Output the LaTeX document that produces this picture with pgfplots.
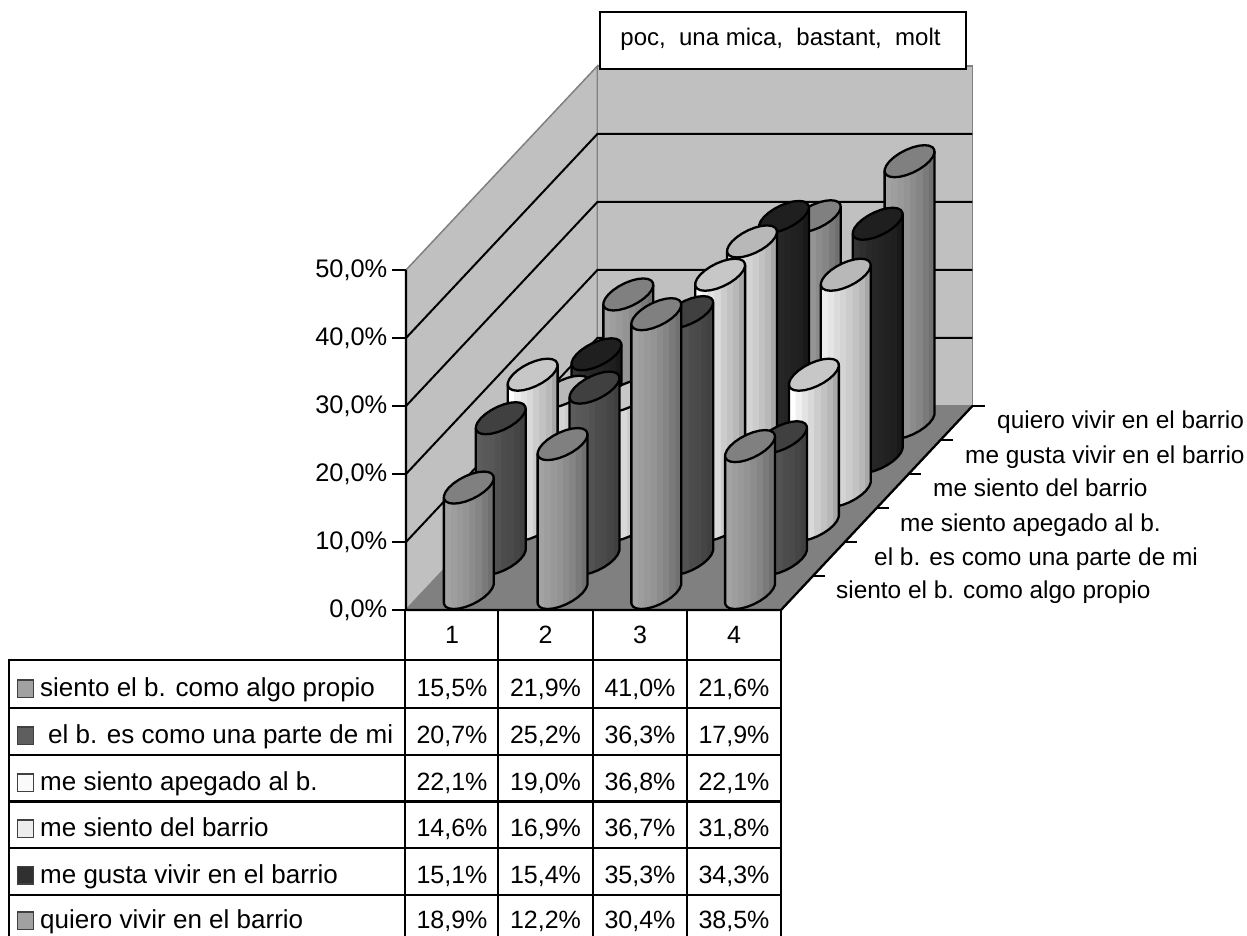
\documentclass[border=0pt]{standalone}
\usepackage{fontspec}
\setmainfont{Liberation Sans}
\usepackage{pgfplots}
\usepackage{pgfplotstable}
\pgfplotsset{compat=1.18}

% cylinder outline on the unit circle: side with front arc, and top ellipse
\pgfplotstableread{
c s z
-0.8 -0.6 0
-0.707 -0.707 0
-0.5 -0.866 0
-0.259 -0.966 0
0 -1 0
0.259 -0.966 0
0.5 -0.866 0
0.707 -0.707 0
0.866 -0.5 0
0.966 -0.259 0
1 0 0
0.966 0.259 0
0.866 0.5 0
0.8 0.6 0
0.8 0.6 1
-0.8 -0.6 1
-0.8 -0.6 0
}\sidetable
\pgfplotstableread{
c s z
1 0 1
0.966 0.259 1
0.866 0.5 1
0.707 0.707 1
0.5 0.866 1
0.259 0.966 1
0 1 1
-0.259 0.966 1
-0.5 0.866 1
-0.707 0.707 1
-0.866 0.5 1
-0.966 0.259 1
-1 0 1
-0.966 -0.259 1
-0.866 -0.5 1
-0.707 -0.707 1
-0.5 -0.866 1
-0.259 -0.966 1
0 -1 1
0.259 -0.966 1
0.5 -0.866 1
0.707 -0.707 1
0.866 -0.5 1
0.966 -0.259 1
1 0 1
}\toptable

% eight vertical strips, visible between 25bp and 75bp
\newcommand{\cylshade}[9]{\pgfdeclarehorizontalshading{#1}{100bp}{%
  rgb(0bp)=(#2,#2,#2); rgb(31.24bp)=(#2,#2,#2);
  rgb(31.25bp)=(#3,#3,#3); rgb(37.49bp)=(#3,#3,#3);
  rgb(37.5bp)=(#4,#4,#4); rgb(43.74bp)=(#4,#4,#4);
  rgb(43.75bp)=(#5,#5,#5); rgb(49.99bp)=(#5,#5,#5);
  rgb(50bp)=(#6,#6,#6); rgb(56.24bp)=(#6,#6,#6);
  rgb(56.25bp)=(#7,#7,#7); rgb(62.49bp)=(#7,#7,#7);
  rgb(62.5bp)=(#8,#8,#8); rgb(68.74bp)=(#8,#8,#8);
  rgb(68.75bp)=(#9,#9,#9); rgb(100bp)=(#9,#9,#9)}}
\cylshade{shA}{.64}{.62}{.60}{.58}{.55}{.52}{.48}{.44}
\cylshade{shB}{.36}{.35}{.34}{.32}{.30}{.29}{.27}{.25}
\cylshade{shC}{1}{.94}{.89}{.85}{.80}{.76}{.72}{.66}
\cylshade{shD}{.93}{.90}{.86}{.83}{.80}{.76}{.72}{.66}
\cylshade{shE}{.20}{.18}{.16}{.15}{.14}{.13}{.12}{.10}
\definecolor{topA}{gray}{.50}
\definecolor{topB}{gray}{.25}
\definecolor{topC}{gray}{.78}
\definecolor{topD}{gray}{.72}
\definecolor{topE}{gray}{.12}
\definecolor{wall}{gray}{.753}
\definecolor{floorc}{gray}{.50}
\definecolor{keyA}{gray}{.63}
\definecolor{keyB}{gray}{.37}
\definecolor{keyC}{gray}{.98}
\definecolor{keyD}{gray}{.93}
\definecolor{keyE}{gray}{.19}

% #1 category, #2 series, #3 value, #4 shading, #5 top colour
\newcommand{\cyl}[5]{
  \addplot3[draw=black, line width=2.3pt, line join=round, shading=#4]
    table[x expr={#1-0.5+0.2128*\thisrow{c}}, y expr={#2-0.5+0.4712*\thisrow{s}}, z expr={#3*\thisrow{z}}] {\sidetable};
  \addplot3[draw=black, line width=2.3pt, line join=round, fill=#5]
    table[x expr={#1-0.5+0.2128*\thisrow{c}}, y expr={#2-0.5+0.4712*\thisrow{s}}, z expr={#3*\thisrow{z}}] {\toptable};
}
\newcommand{\gridl}[1]{
  \addplot3[black, line width=2pt] coordinates {(0,0,#1) (0,6,#1) (4,6,#1)};
}
\newcommand{\vals}[5]{
  \node[anchor=base] at (452,#1) {#2\%};
  \node[anchor=base] at (545.5,#1) {#3\%};
  \node[anchor=base] at (640,#1) {#4\%};
  \node[anchor=base] at (734,#1) {#5\%};
}
\newcommand{\rowname}[5]{
  \draw[draw=black!75, line width=1.8pt, fill=#4] (17.5,#1-17) rectangle (33.5,#1+0.5);
  \node[anchor=base west] at (#2,#1) {\fontsize{26}{28}\selectfont #3};
  #5
}
\newcommand{\sidelabel}[3]{
  \node[anchor=base west] at (#1,#2) {\fontsize{24.4}{28}\selectfont #3};
}
\newcommand{\zlabel}[2]{
  \node[anchor=base east] at (387.5,#1) {\fontsize{25.4}{28}\selectfont #2};
}

\begin{document}
\begin{tikzpicture}
\path[use as bounding box] (0,0) rectangle (1247pt,936pt);
\begin{axis}[
    at={(406pt,326pt)}, anchor=origin,
    x={(93.75pt,0pt)}, y={(31.9pt,34pt)}, z={(0pt,6.8pt)},
    xmin=0, xmax=4, ymin=0, ymax=6, zmin=0, zmax=50,
    hide axis, clip=false,
]
% walls and floor
\addplot3[draw=black!50, line width=1.5pt, fill=wall] coordinates {(0,0,0) (0,0,50) (0,6,50) (0,6,0) (0,0,0)};
\addplot3[draw=black!50, line width=1.5pt, fill=wall] coordinates {(0,6,0) (0,6,50) (4,6,50) (4,6,0) (0,6,0)};
\addplot3[draw=black!50, line width=1.5pt, fill=floorc] coordinates {(0,0,0) (4,0,0) (4,6,0) (0,6,0) (0,0,0)};
\gridl{10}
\gridl{20}
\gridl{30}
\gridl{40}
\addplot3[black, line width=2.3pt] coordinates {(0,0,50) (0,0,0) (4,0,0) (4,6,0)};
% left ticks
\addplot3[black, line width=2pt] coordinates {(0,0,0) (-0.15,0,0)};
\addplot3[black, line width=2pt] coordinates {(0,0,10) (-0.15,0,10)};
\addplot3[black, line width=2pt] coordinates {(0,0,20) (-0.15,0,20)};
\addplot3[black, line width=2pt] coordinates {(0,0,30) (-0.15,0,30)};
\addplot3[black, line width=2pt] coordinates {(0,0,40) (-0.15,0,40)};
\addplot3[black, line width=2pt] coordinates {(0,0,50) (-0.15,0,50)};
% depth ticks
\addplot3[black, line width=2pt] coordinates {(4,1,0) (4.13,1,0)};
\addplot3[black, line width=2pt] coordinates {(4,2,0) (4.13,2,0)};
\addplot3[black, line width=2pt] coordinates {(4,3,0) (4.13,3,0)};
\addplot3[black, line width=2pt] coordinates {(4,4,0) (4.13,4,0)};
\addplot3[black, line width=2pt] coordinates {(4,5,0) (4.13,5,0)};
\addplot3[black, line width=2pt] coordinates {(4,6,0) (4.13,6,0)};
% quiero vivir en el barrio
\cyl{1}{6}{18.9}{shA}{topA}
\cyl{2}{6}{12.2}{shA}{topA}
\cyl{3}{6}{30.4}{shA}{topA}
\cyl{4}{6}{38.5}{shA}{topA}
% me gusta vivir en el barrio
\cyl{1}{5}{15.1}{shE}{topE}
\cyl{2}{5}{15.4}{shE}{topE}
\cyl{3}{5}{35.3}{shE}{topE}
\cyl{4}{5}{34.3}{shE}{topE}
% me siento del barrio
\cyl{1}{4}{14.6}{shD}{topD}
\cyl{2}{4}{16.9}{shD}{topD}
\cyl{3}{4}{36.7}{shD}{topD}
\cyl{4}{4}{31.8}{shD}{topD}
% me siento apegado al b.
\cyl{1}{3}{22.1}{shC}{topC}
\cyl{2}{3}{19.0}{shC}{topC}
\cyl{3}{3}{36.8}{shC}{topC}
\cyl{4}{3}{22.1}{shC}{topC}
% el b. es como una parte de mi
\cyl{1}{2}{20.7}{shB}{topB}
\cyl{2}{2}{25.2}{shB}{topB}
\cyl{3}{2}{36.3}{shB}{topB}
\cyl{4}{2}{17.9}{shB}{topB}
% siento el b. como algo propio
\cyl{1}{1}{15.5}{shA}{topA}
\cyl{2}{1}{21.9}{shA}{topA}
\cyl{3}{1}{41.0}{shA}{topA}
\cyl{4}{1}{21.6}{shA}{topA}
\end{axis}

% texts and table, in picture pixels measured from the top left
\begin{scope}[x=1pt, y=-1pt, shift={(0pt,936pt)}, every node/.style={inner sep=0pt, font=\fontsize{25}{28}\selectfont}]
\draw[fill=white, line width=2pt] (600,12) rectangle (965.5,69.5);
\node[anchor=base] at (780.5,46) {\fontsize{24}{28}\selectfont poc,~~una mica,~~bastant,~~molt};

\zlabel{278}{50,0\%}
\zlabel{346}{40,0\%}
\zlabel{414}{30,0\%}
\zlabel{482}{20,0\%}
\zlabel{550}{10,0\%}
\zlabel{618}{0,0\%}

\sidelabel{997}{429}{quiero vivir en el barrio}
\sidelabel{965}{464}{me gusta vivir en el barrio}
\sidelabel{933}{497}{me siento del barrio}
\sidelabel{900}{532}{me siento apegado al b.}
\sidelabel{874}{566}{el b. es como una parte de mi}
\sidelabel{836}{599}{siento el b. como algo propio}

\draw[line width=2.2pt] (9,660) -- (781,660);
\draw[line width=2.2pt] (9,708) -- (781,708);
\draw[line width=2.2pt] (9,755) -- (781,755);
\draw[line width=2.2pt] (9,801.5) -- (781,801.5);
\draw[line width=2.2pt] (9,848) -- (781,848);
\draw[line width=2.2pt] (9,895) -- (781,895);
\draw[line width=2.2pt] (9,659) -- (9,936);
\draw[line width=2.2pt] (405,610) -- (405,936);
\draw[line width=2.2pt] (498,610) -- (498,936);
\draw[line width=2.2pt] (593,610) -- (593,936);
\draw[line width=2.2pt] (687,610) -- (687,936);
\draw[line width=2.2pt] (781,610) -- (781,936);

\node[anchor=base] at (452,644) {1};
\node[anchor=base] at (545.5,644) {2};
\node[anchor=base] at (640,644) {3};
\node[anchor=base] at (734,644) {4};

\rowname{697}{40}{siento el b. como algo propio}{keyA}{\vals{697}{15,5}{21,9}{41,0}{21,6}}
\rowname{744}{48}{el b. es como una parte de mi}{keyB}{\vals{744}{20,7}{25,2}{36,3}{17,9}}
\rowname{791}{40}{me siento apegado al b.}{keyC}{\vals{791}{22,1}{19,0}{36,8}{22,1}}
\rowname{837}{40}{me siento del barrio}{keyD}{\vals{837}{14,6}{16,9}{36,7}{31,8}}
\rowname{883.5}{40}{me gusta vivir en el barrio}{keyE}{\vals{883.5}{15,1}{15,4}{35,3}{34,3}}
\rowname{929}{40}{quiero vivir en el barrio}{keyA}{\vals{929}{18,9}{12,2}{30,4}{38,5}}
\end{scope}
\end{tikzpicture}
\end{document}
